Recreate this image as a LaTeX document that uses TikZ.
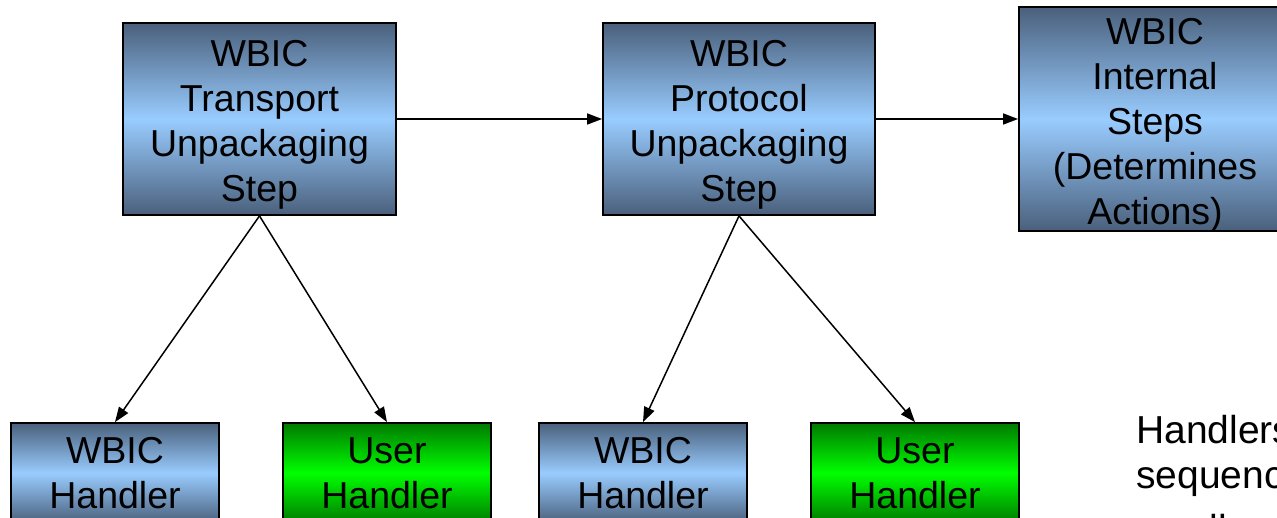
\documentclass[tikz,border=0pt]{standalone}
\usepackage{fontspec}
\setmainfont{Liberation Sans}
\usetikzlibrary{arrows.meta}
\definecolor{boxdark}{HTML}{4A607C}
\definecolor{boxlight}{HTML}{99CCFF}
\definecolor{grdark}{HTML}{007A00}
\definecolor{grlight}{HTML}{00FF00}
\tikzset{
  bluebox/.style={draw=black, line width=1.8pt, inner sep=0pt, align=center,
    top color=boxdark, bottom color=boxdark, middle color=boxlight,
    text depth=0pt, font=\fontsize{37.5}{45}\selectfont},
  greenbox/.style={bluebox, top color=grdark, bottom color=grdark, middle color=grlight},
  toptext/.style={align=center, inner sep=0pt, text depth=0pt, yshift=-2pt,
    font=\fontsize{37.5}{45}\selectfont},
  conn/.style={line width=1.5pt, -{Triangle[length=15pt,width=11pt]}},
  note/.style={anchor=base west, inner sep=0pt, font=\fontsize{39}{45}\selectfont}
}
\begin{document}
\begin{tikzpicture}[x=1pt,y=-1pt]
\useasboundingbox (0,0) rectangle (1277,517);
\clip (0,0) rectangle (1277,517);
\node[bluebox, minimum width=273pt, minimum height=192pt] (A) at (259.5,119) {};
\node[toptext] (At) at (A.center) {WBIC\\Transport\\Unpackaging\\Step};
\node[bluebox, minimum width=272pt, minimum height=192pt] (B) at (739,119) {};
\node[toptext] (Bt) at (B.center) {WBIC\\Protocol\\Unpackaging\\Step};
\node[bluebox, minimum width=272pt, minimum height=224pt] (C) at (1155,119) {};
\node[toptext] (Ct) at (C.center) {WBIC\\Internal\\Steps\\(Determines\\Actions)};
\node[bluebox, minimum width=208pt, minimum height=100pt] (W1) at (115,473) {WBIC\\Handler};
\node[greenbox, minimum width=208pt, minimum height=100pt] (U1) at (387,473) {User\\Handler};
\node[bluebox, minimum width=208pt, minimum height=100pt] (W2) at (643,473) {WBIC\\Handler};
\node[greenbox, minimum width=208pt, minimum height=100pt] (U2) at (915,473) {User\\Handler};
\draw[conn] (A.east) -- (B.west);
\draw[conn] (B.east) -- (C.west |- B.east);
\draw[conn] (A.south) -- (W1.north);
\draw[conn] (A.south) -- (U1.north);
\draw[conn] (B.south) -- (W2.north);
\draw[conn] (B.south) -- (U2.north);
\node[note] (n1) at (1136,443) {Handlers are};
\node[note] (n2) at (1136,488) {sequence};
\node[note] (n3) at (1136,542) {so all};
\end{tikzpicture}
\end{document}
